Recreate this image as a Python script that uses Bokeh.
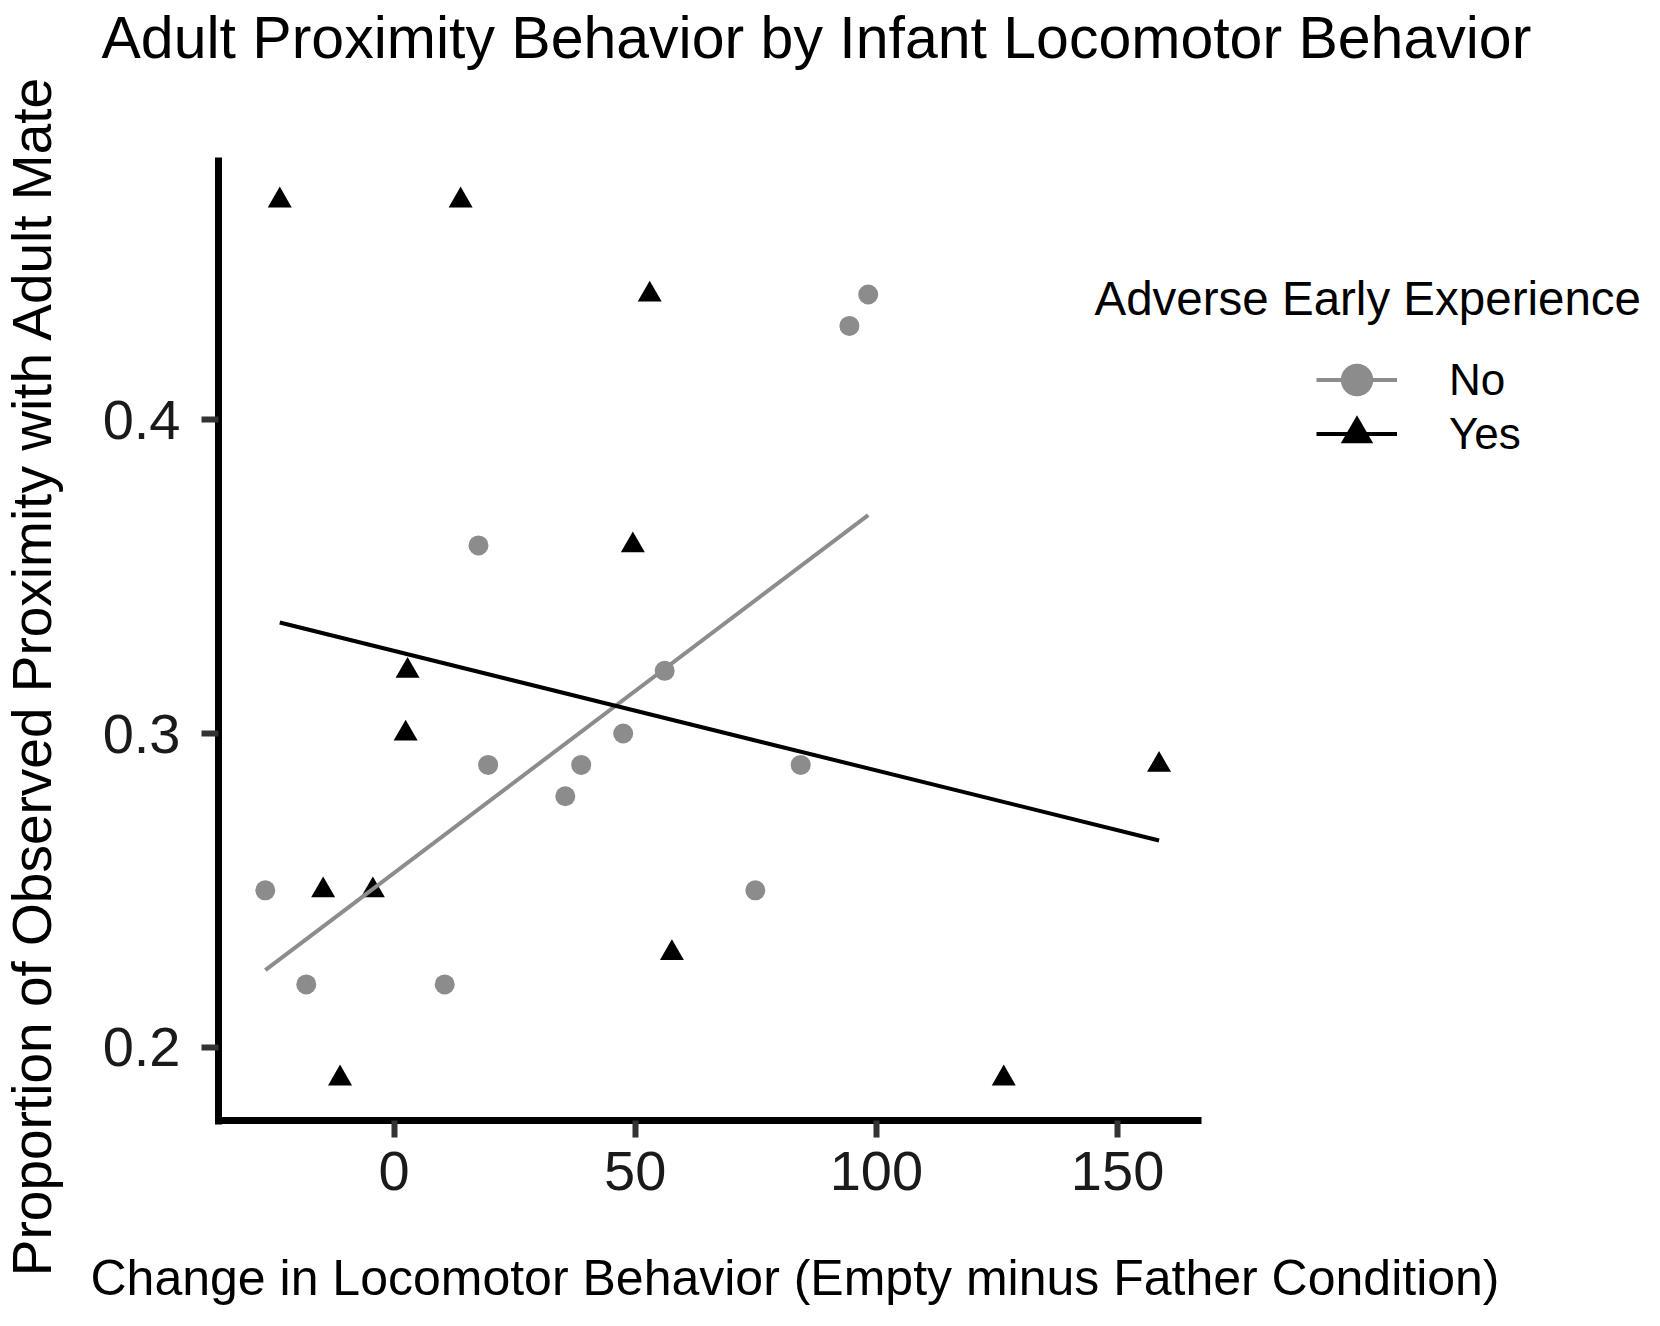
import math
import numpy as np
from bokeh.plotting import figure
from bokeh.models import (Range1d, FixedTicker, Legend, LegendItem, Label,
                          ColumnDataSource)
from bokeh.embed import file_html
from bokeh.resources import INLINE

# ---- data ----
groups = ["No", "Yes"]
no_x = [-26.7, -18.2, 10.5, 17.5, 19.5, 35.5, 38.8, 47.5, 56.1, 74.9, 84.3, 94.4, 98.3]
no_y = [0.25, 0.22, 0.22, 0.36, 0.29, 0.28, 0.29, 0.30, 0.32, 0.25, 0.29, 0.43, 0.44]
yes_x = [-23.7, -14.7, -11.2, -4.4, 2.4, 2.8, 13.8, 49.5, 53.0, 57.6, 126.4, 158.6]
yes_y = [0.47, 0.25, 0.19, 0.25, 0.30, 0.32, 0.47, 0.36, 0.44, 0.23, 0.19, 0.29]
x_ticks = [0, 50, 100, 150]
x_tick_labels = ["0", "50", "100", "150"]
y_ticks = [0.2, 0.3, 0.4]
y_tick_labels = ["0.2", "0.3", "0.4"]
x_axis_span = (-36.4, 167.4)     # visible extent of the x axis
y_axis_span = (0.1766, 0.4837)   # visible extent of the y axis

title_text = "Adult Proximity Behavior by Infant Locomotor Behavior"
x_title = "Change in Locomotor Behavior (Empty minus Father Condition)"
y_title = "Proportion of Observed Proximity with Adult Mate"
legend_title = "Adverse Early Experience"

FONT = "Liberation Sans"
GREY = "#8c8c8c"
BLACK = "#000000"

# ---- layout (pixels) ----
W, H = 1644, 1310
TOP = 70                 # space for the title above the drawing area
AX_LEFT, AX_RIGHT = 218, 1201
AX_TOP, AX_BOTTOM = 157, 1120
px_x = (AX_RIGHT - AX_LEFT) / (x_axis_span[1] - x_axis_span[0])
px_y = (AX_BOTTOM - AX_TOP) / (y_axis_span[1] - y_axis_span[0])
x0 = x_axis_span[0] - AX_LEFT / px_x
x1 = x_axis_span[0] + (W - AX_LEFT) / px_x
y0 = y_axis_span[0] - (H - AX_BOTTOM) / px_y
y1 = y_axis_span[1] + (AX_TOP - TOP) / px_y

p = figure(width=W, height=H, output_backend="svg", toolbar_location=None,
           x_range=Range1d(x0, x1), y_range=Range1d(y0, y1),
           min_border_left=0, min_border_right=0, min_border_top=TOP,
           min_border_bottom=0)
p.grid.visible = False
p.outline_line_color = None
p.background_fill_color = "white"
p.border_fill_color = "white"

for ax in (p.xaxis[0], p.yaxis[0]):
    ax.axis_line_color = "black"
    ax.axis_line_width = 7
    ax.major_tick_line_color = "#333333"
    ax.major_tick_line_width = 6
    ax.major_tick_in = 0
    ax.major_tick_out = 17
    ax.minor_tick_line_color = None
    ax.major_label_text_font = FONT
    ax.major_label_text_font_size = "56px"
    ax.major_label_text_color = "#1a1a1a"

p.xaxis.ticker = FixedTicker(ticks=x_ticks)
p.xaxis.major_label_overrides = dict(zip(x_ticks, x_tick_labels))
p.xaxis.major_label_standoff = 14
p.xaxis.fixed_location = y_axis_span[0]
p.xaxis.bounds = (x_axis_span[0] - 3.5 / px_x, x_axis_span[1])

p.yaxis.ticker = FixedTicker(ticks=y_ticks)
p.yaxis.major_label_overrides = dict(zip(y_ticks, y_tick_labels))
p.yaxis.major_label_standoff = 21
p.yaxis.fixed_location = x_axis_span[0]
p.yaxis.bounds = (y_axis_span[0] - 3.5 / px_y, y_axis_span[1])

# plot title
p.title.text = title_text
p.title.align = "left"
p.title.offset = 101
p.title.vertical_align = "bottom"
p.title.standoff = 0
p.title.text_font = FONT
p.title.text_font_size = "59px"
p.title.text_font_style = "normal"
p.title.text_color = "black"

# axis titles (screen px, measured from bottom-left of the drawing area)
p.add_layout(Label(x=90, y=H - 1298 + 21, x_units="screen", y_units="screen",
                   text=x_title, text_font=FONT, text_font_size="50px",
                   text_color="black", text_baseline="alphabetic", text_align="left"))
p.add_layout(Label(x=31, y=H - 675, x_units="screen", y_units="screen",
                   text=y_title, angle=math.pi / 2, text_font=FONT,
                   text_font_size="55px", text_color="black",
                   text_baseline="alphabetic", text_align="center"))

# points
src_no = ColumnDataSource(dict(x=no_x, y=no_y))
src_yes = ColumnDataSource(dict(x=yes_x, y=yes_y))
pts_no = p.scatter("x", "y", source=src_no, marker="circle", size=20,
                   fill_color=GREY, line_color=None)
pts_yes = p.scatter("x", "y", source=src_yes, marker="triangle", size=24,
                    fill_color=BLACK, line_color=None)

# least-squares fit lines, spanning each group's x range
def fit(xs, ys):
    xs = np.asarray(xs); ys = np.asarray(ys)
    b, a = np.polyfit(xs, ys, 1)
    xx = np.array([xs.min(), xs.max()])
    return xx, a + b * xx

fx, fy = fit(no_x, no_y)
line_no = p.line(fx, fy, line_color=GREY, line_width=4)
fx, fy = fit(yes_x, yes_y)
line_yes = p.line(fx, fy, line_color=BLACK, line_width=4)

# legend heading and entries
p.add_layout(Label(x=1094, y=H - 317 + 19, x_units="screen", y_units="screen",
                   text=legend_title, text_font=FONT, text_font_size="47.5px",
                   text_color="black", text_baseline="alphabetic", text_align="left"))

GH = 85  # glyph box height of each entry

def entry(label, renderers, center_y):
    return Legend(items=[LegendItem(label=label, renderers=renderers)],
                  location=(1316, int(round(H - center_y - GH / 2))),
                  glyph_width=81, glyph_height=GH, label_standoff=52,
                  padding=0, margin=0, border_line_color=None,
                  background_fill_alpha=0, label_text_font=FONT,
                  label_text_font_size="44px", label_text_color="black")

p.add_layout(entry(groups[0], [line_no, pts_no], 379))
p.add_layout(entry(groups[1], [line_yes, pts_yes], 434))

open("out.html", "w").write(file_html(p, INLINE))
